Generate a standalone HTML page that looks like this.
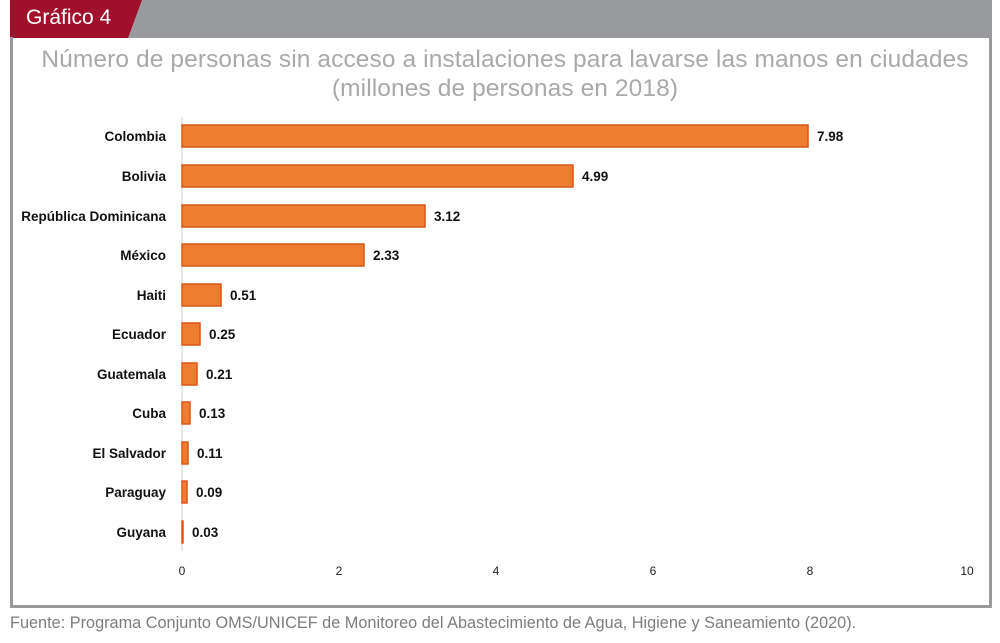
<!DOCTYPE html>
<html><head><meta charset="utf-8"><style>
body{margin:0;width:1000px;height:643px;background:#fff;overflow:hidden;font-family:"Liberation Sans",sans-serif;position:relative}
.t{position:absolute;white-space:nowrap}
</style></head><body>
<svg width="1000" height="643" style="position:absolute;left:0;top:0">
<rect x="10" y="0" width="982" height="38" fill="#999a9d"/>
<polygon points="10,0 142,0 128,38 10,38" fill="#a0102d"/>
<rect x="10" y="37" width="3" height="571" fill="#9a9a9c"/>
<rect x="989" y="37" width="3" height="571" fill="#9a9a9c"/>
<rect x="10" y="605" width="982" height="3" fill="#9a9a9c"/>
<line x1="182" y1="117" x2="182" y2="551" stroke="#ccc" stroke-width="1"/>
<g fill="#ee7d31" stroke="#d9581a" stroke-width="1.5">
<rect x="182" y="125" width="626" height="22"/>
<rect x="182" y="165" width="391" height="22"/>
<rect x="182" y="205" width="243" height="22"/>
<rect x="182" y="244" width="182" height="22"/>
<rect x="182" y="284" width="39" height="22"/>
<rect x="182" y="323" width="18" height="22"/>
<rect x="182" y="363" width="15" height="22"/>
<rect x="182" y="402" width="8" height="22"/>
<rect x="182" y="442" width="6" height="22"/>
<rect x="182" y="481" width="5" height="22"/>
<rect x="182" y="521" width="1" height="22"/>
</g>
<g font-family="Liberation Sans" font-size="13.5" font-weight="bold" fill="#111">
<g text-anchor="end">
<text x="166" y="141">Colombia</text><text x="166" y="181">Bolivia</text><text x="166" y="221">República Dominicana</text><text x="166" y="260">México</text><text x="166" y="300">Haiti</text><text x="166" y="339">Ecuador</text><text x="166" y="379">Guatemala</text><text x="166" y="418">Cuba</text><text x="166" y="458">El Salvador</text><text x="166" y="497">Paraguay</text><text x="166" y="537">Guyana</text>
</g>
<text x="817" y="141">7.98</text><text x="582" y="181">4.99</text><text x="434" y="221">3.12</text><text x="373" y="260">2.33</text><text x="230" y="300">0.51</text><text x="209" y="339">0.25</text><text x="206" y="379">0.21</text><text x="199" y="418">0.13</text><text x="197" y="458">0.11</text><text x="196" y="497">0.09</text><text x="192" y="537">0.03</text>
</g>
<g font-family="Liberation Sans" font-size="12" fill="#222" text-anchor="middle">
<text x="182" y="575">0</text><text x="339" y="575">2</text><text x="496" y="575">4</text><text x="653" y="575">6</text><text x="810" y="575">8</text><text x="967" y="575">10</text>
</g>
</svg>
<div class="t" style="left:0;width:1010px;text-align:center;top:45px;font-size:24.5px;letter-spacing:0.1px;color:#a9a9ab;line-height:29px">Número de personas sin acceso a instalaciones para lavarse las manos en ciudades<br>(millones de personas en 2018)</div>
<div class="t" style="left:26px;top:6px;font-size:21px;color:#fff">Gráfico 4</div>
<div class="t" style="left:10px;top:614px;font-size:16.3px;color:#7d7d80">Fuente: Programa Conjunto OMS/UNICEF de Monitoreo del Abastecimiento de Agua, Higiene y Saneamiento (2020).</div>
</body></html>
